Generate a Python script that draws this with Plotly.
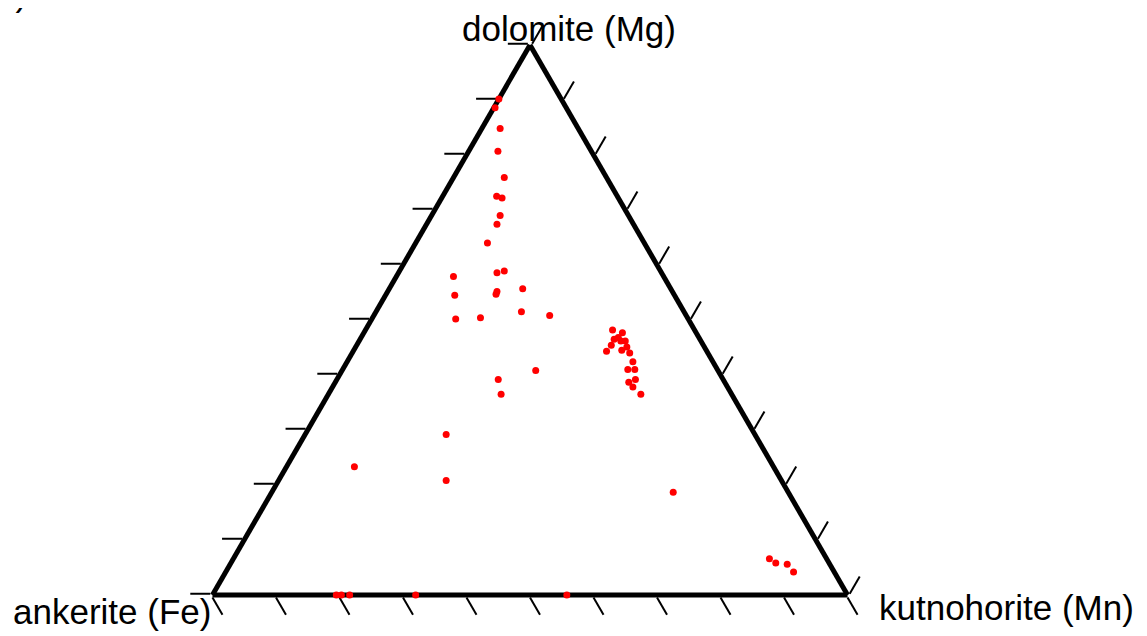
import plotly.graph_objects as go

# Ternary composition (fractions)
dolomite_mg = [0.902, 0.886, 0.848, 0.807, 0.759, 0.725, 0.722, 0.690, 0.674, 0.640,
               0.579, 0.586, 0.589, 0.545, 0.552, 0.547, 0.557, 0.502, 0.504, 0.515,
               0.508, 0.408, 0.392, 0.365,
               0.482, 0.477, 0.465, 0.468, 0.462, 0.462, 0.454, 0.451, 0.443, 0.445,
               0.440, 0.424, 0.410, 0.410, 0.392, 0.387, 0.378, 0.365,
               0.292, 0.233, 0.208, 0.187, 0.066, 0.058, 0.056, 0.042,
               0.000, 0.000, 0.000, 0.000, 0.000]
ankerite_fe = [0.098, 0.112, 0.123, 0.147, 0.161, 0.190, 0.183, 0.202, 0.215, 0.247,
               0.331, 0.259, 0.246, 0.346, 0.276, 0.280, 0.233, 0.366, 0.326, 0.256,
               0.215, 0.287, 0.354, 0.363,
               0.129, 0.116, 0.135, 0.127, 0.126, 0.119, 0.145, 0.122, 0.158, 0.133,
               0.123, 0.126, 0.141, 0.130, 0.138, 0.151, 0.149, 0.143,
               0.486, 0.660, 0.528, 0.181, 0.090, 0.084, 0.067, 0.064,
               0.805, 0.797, 0.784, 0.680, 0.442]
kutnohorite_mn = [0.000, 0.002, 0.029, 0.046, 0.080, 0.085, 0.095, 0.108, 0.111, 0.113,
                  0.090, 0.155, 0.165, 0.109, 0.172, 0.173, 0.210, 0.132, 0.170, 0.229,
                  0.277, 0.305, 0.254, 0.272,
                  0.389, 0.407, 0.400, 0.405, 0.412, 0.419, 0.401, 0.427, 0.399, 0.422,
                  0.437, 0.450, 0.449, 0.460, 0.470, 0.462, 0.473, 0.492,
                  0.222, 0.107, 0.264, 0.632, 0.844, 0.858, 0.877, 0.894,
                  0.195, 0.203, 0.216, 0.320, 0.558]

label_a = "dolomite (Mg)"
label_b = "ankerite (Fe)"
label_c = "kutnohorite (Mn)"
panel_tag = "a)"

FONT = "Liberation Sans, Arial, sans-serif"
FS = 35

fig = go.Figure()
fig.add_trace(go.Scatterternary(
    a=dolomite_mg, b=ankerite_fe, c=kutnohorite_mn,
    mode="markers",
    marker=dict(color="#ff0000", size=7, line=dict(width=0)),
    cliponaxis=False,
    showlegend=False,
))

axis_style = dict(
    title=dict(text=""),
    showline=True, linecolor="black", linewidth=5,
    showgrid=False, showticklabels=False,
    ticks="outside", ticklen=20, tickwidth=2, tickcolor="black",
    tickmode="linear", tick0=0, dtick=0.1, min=0,
    layer="below traces",
)

fig.update_layout(
    width=1147, height=636,
    margin=dict(l=92, r=195, t=37, b=49),
    paper_bgcolor="white",
    plot_bgcolor="white",
    font=dict(family=FONT, color="black"),
    ternary=dict(
        sum=1,
        bgcolor="white",
        aaxis=axis_style,
        baxis=axis_style,
        caxis=axis_style,
    ),
    annotations=[
        dict(text=label_a, xref="paper", yref="paper", x=0.5448, y=1.0309,
             xanchor="center", yanchor="middle", showarrow=False,
             font=dict(size=FS, family=FONT, color="black")),
        dict(text=label_b, xref="paper", yref="paper", x=0.0134, y=-0.0309,
             xanchor="center", yanchor="middle", showarrow=False,
             font=dict(size=FS, family=FONT, color="black")),
        dict(text=label_c, xref="paper", yref="paper", x=1.0535, y=-0.0236,
             xanchor="center", yanchor="middle", showarrow=False,
             font=dict(size=FS, family=FONT, color="black")),
        dict(text=panel_tag, xref="paper", yref="paper", x=-0.0824, y=1.0545,
             xanchor="right", yanchor="bottom", showarrow=False,
             font=dict(size=FS, family=FONT, color="black")),
    ],
)

fig.write_html("out.html")
